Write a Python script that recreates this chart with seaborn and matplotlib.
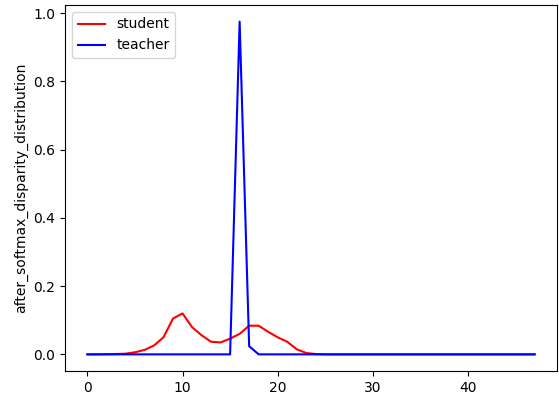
import matplotlib
matplotlib.use("Agg")
import matplotlib.pyplot as plt
import seaborn as sns
import numpy as np
import pandas as pd

disparity = list(range(48))
student = [0.0, 0.0, 0.0005, 0.001, 0.002, 0.006, 0.013, 0.026, 0.05, 0.105,
           0.12, 0.08, 0.056, 0.037, 0.035, 0.046, 0.06, 0.084, 0.084, 0.066,
           0.05, 0.037, 0.015, 0.004, 0.001, 0.0, 0.0, 0.0, 0.0, 0.0,
           0.0, 0.0, 0.0, 0.0, 0.0, 0.0, 0.0, 0.0, 0.0, 0.0,
           0.0, 0.0, 0.0, 0.0, 0.0, 0.0, 0.0, 0.0]
teacher = [0.0] * 15 + [0.0, 0.975, 0.024] + [0.0] * 30

fig = plt.figure(figsize=(5.59, 3.98), dpi=100)
ax = fig.add_subplot(111)
fig.subplots_adjust(left=65/559, right=557/559, top=1-5/398, bottom=1-371/398)

sns.lineplot(x=disparity, y=student, color="red", label="student", ax=ax)
sns.lineplot(x=disparity, y=teacher, color="blue", label="teacher", ax=ax)
ax.set_ylabel("after_softmax_disparity_distribution")
ax.legend(loc="upper left")
fig.savefig("out.png", dpi=100)
